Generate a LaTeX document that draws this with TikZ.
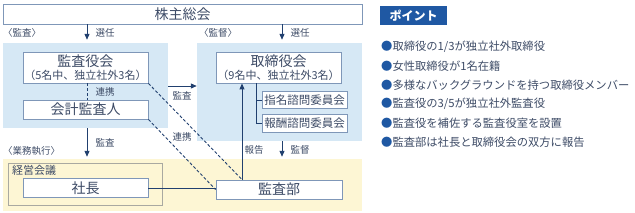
\documentclass[tikz,border=0pt]{standalone}
\usepackage{fontspec}
\setmainfont{Noto Sans CJK JP}
\usepackage{xcolor}
\usepackage{tikz}
\usetikzlibrary{arrows.meta, positioning, calc}
\definecolor{tinta}{HTML}{3D4B66}
\definecolor{borde}{HTML}{7F97B8}
\definecolor{marino}{HTML}{21406F}
\definecolor{celeste}{HTML}{D6E8F5}
\definecolor{crema}{HTML}{FDF6D4}
\definecolor{gris}{HTML}{A9A9A1}
\definecolor{azulpunto}{HTML}{1F58A3}
\tikzset{
  every picture/.style={x=1pt, y=-1pt},
  caja/.style={draw=borde, fill=white, text=tinta, inner sep=0pt, line width=0.9pt,
               font=\fontsize{14}{15}\selectfont, align=center},
  comite/.style={caja, minimum width=85, font=\fontsize{11.5}{12}\selectfont},
  panel/.style={fill=#1, inner sep=0pt},
  etiq/.style={text=tinta, inner sep=0pt, font=\fontsize{9.5}{10}\selectfont},
  flecha/.style={-{Triangle[length=6pt, width=5pt]}, line width=1pt, marino},
  linea/.style={line width=0.8pt, marino},
  lineap/.style={line width=0.9pt, marino, dash pattern=on 3pt off 2pt},
}

\begin{document}
\begin{tikzpicture}
  \useasboundingbox (0,0) rectangle (635,212);
  % fondos
  \node[panel=celeste, minimum width=165, minimum height=85] (panelI) at (85.5,85.5) {};
  \node[panel=celeste, minimum width=165, minimum height=98] (panelD) at (279.5,92) {};
  \node[panel=crema, minimum width=359, minimum height=52] (panelA) at (182.5,185) {};
  \node[panel=crema, draw=gris, line width=0.9pt, minimum width=154, minimum height=42] (keiei) at (85,184) {};
  \node[etiq, anchor=west, font=\fontsize{11}{12}\selectfont] (keieiT) at (12,170) {経営会議};

  % cajas
  \node[caja, minimum width=359, minimum height=20] (soukai) at (182.5,14) {株主総会};
  \node[caja, minimum width=125, minimum height=31] (kansayaku) at (85.5,67.5)
    {監査役会\\[-2pt]{\fontsize{11}{12}\selectfont （5名中、独立社外3名）}};
  \node[caja, minimum width=125, minimum height=31] (torishimari) at (278.5,67.5)
    {取締役会\\[-2pt]{\fontsize{11}{12}\selectfont （9名中、独立社外3名）}};
  \node[caja, minimum width=125, minimum height=19] (kaikei) at (85.5,109.5) {会計監査人};
  \node[comite, minimum height=17] (shimei) at (304.5,100) {指名諮問委員会};
  \node[comite, minimum height=18] (houshu) at (304.5,123) {報酬諮問委員会};
  \node[caja, minimum width=125, minimum height=19] (shachou) at (85.5,188) {社長};
  \node[caja, minimum width=126, minimum height=19] (kansabu) at (279,189.5) {監査部};

  % puntos de apoyo
  \coordinate (ejeI) at (87,0);
  \coordinate (ejeD) at (282,0);
  \coordinate (ejeR) at (242,0);
  \coordinate (ejeT) at (256,0);
  \coordinate (nivK) at (0,86);

  % conectores
  \draw[flecha] (soukai.south -| ejeI) -- ($(panelI.north -| ejeI)+(0,-3)$);
  \draw[flecha] (soukai.south -| ejeD) -- ($(panelD.north -| ejeD)+(0,-3)$);
  \draw[flecha] (panelI.east |- nivK) -- (panelD.west |- nivK);
  \draw[lineap] (kansayaku.south -| ejeI) -- (kaikei.north -| ejeI);
  \draw[lineap] (kansayaku.south east) -- (kansabu.north -| ejeR);
  \draw[lineap] (kaikei.south east) -- (kansabu.west);
  \draw[linea] (shachou.east) -- (shachou.east -| kansabu.west);
  \draw[flecha] (kansabu.north -| ejeR) -- (torishimari.south -| ejeR);
  \draw[linea] (torishimari.south -| ejeT) |- (houshu.west);
  \draw[linea] (shimei.west -| ejeT) -- (shimei.west);
  \draw[flecha] (panelI.south -| ejeI) -- ($(panelA.north -| ejeI)+(0,-2)$);
  \draw[flecha] (panelD.south -| ejeD) -- ($(panelA.north -| ejeD)+(0,-2)$);

  % etiquetas
  \node[etiq, anchor=west] (lbKansa) at (3,33) {〈監査〉};
  \node[etiq, anchor=west] (lbKantoku) at (199,33) {〈監督〉};
  \node[etiq, anchor=west] (lbGyomu) at (3,151) {〈業務執行〉};
  \node[etiq] (sen1) at (105,32.5) {選任};
  \node[etiq] (sen2) at (300,32.5) {選任};
  \node[etiq] (ren1) at (105,92) {連携};
  \node[etiq] (kan1) at (182,96) {監査};
  \node[etiq] (ren2) at (182,137) {連携};
  \node[etiq] (kan2) at (105,143) {監査};
  \node[etiq] (hou) at (254,150) {報告};
  \node[etiq] (kant) at (300,150) {監督};

  % puntos
  \node[fill=azulpunto, text=white, inner sep=0pt, minimum width=67, minimum height=19,
        font=\fontsize{12}{12}\selectfont\bfseries] (punto) at (413.5,15.5) {ポイント};
  \foreach \txt [count=\i] in {取締役の1/3が独立社外取締役, 女性取締役が1名在籍,
      多様なバックグラウンドを持つ取締役メンバー, 監査役の3/5が独立社外監査役,
      監査役を補佐する監査役室を設置, 監査部は社長と取締役会の双方に報告}
    \node[anchor=west, inner sep=0pt, text=tinta, font=\fontsize{11.3}{13}\selectfont]
      (p\i) at (381,{46.5+19.2*(\i-1)}) {\textcolor{azulpunto}{●}\txt};
\end{tikzpicture}
\end{document}
